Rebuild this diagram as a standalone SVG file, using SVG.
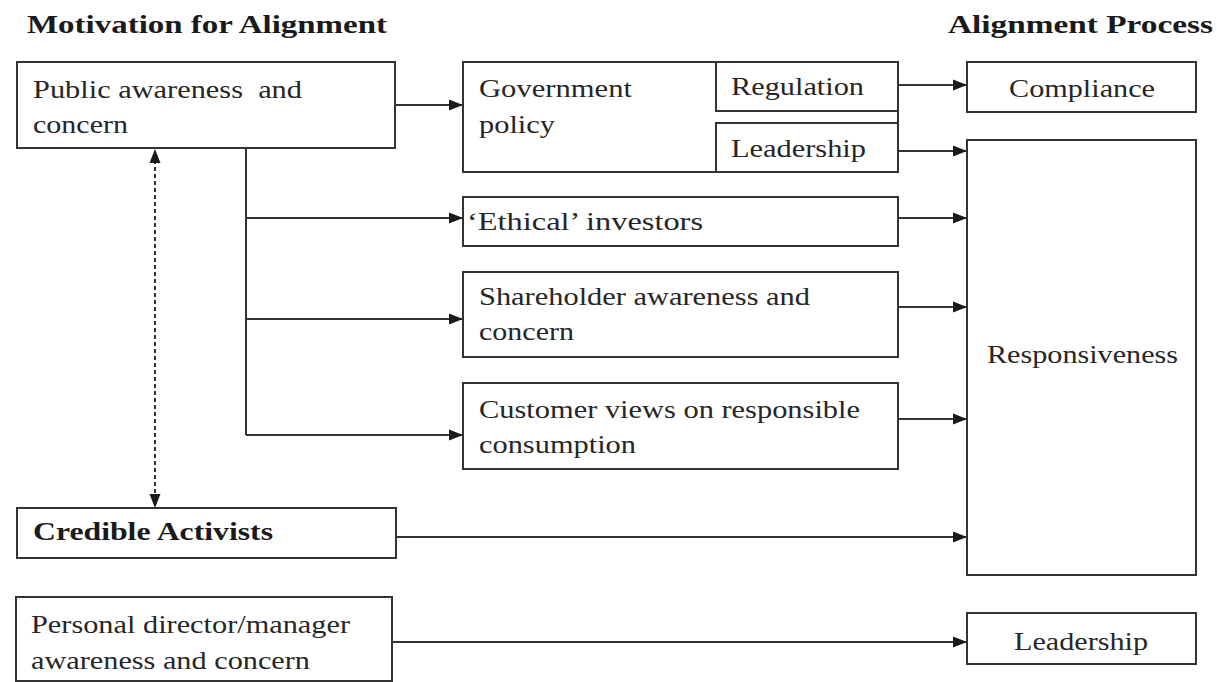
<svg xmlns="http://www.w3.org/2000/svg" width="1217" height="682" viewBox="0 0 1217 682">
<defs>
<marker id="ah" markerWidth="16" markerHeight="14" refX="14" refY="7" orient="auto" markerUnits="userSpaceOnUse">
<path d="M0,1.5 L14,7 L0,12.5 Z" fill="#1a1a1a"/>
</marker>
<style>
.box{fill:#fff;stroke:#333;stroke-width:2}
.t{font-family:"Liberation Serif","Times New Roman",serif;font-size:26px;fill:#262626}
.b{font-weight:bold;fill:#1a1a1a}
.ln{fill:none;stroke:#333;stroke-width:2}
.dash{stroke-dasharray:4 3}
</style>
</defs>
<rect width="1217" height="682" fill="#fff"/>

<g id="titles">
<text class="t b" x="27" y="33" font-size="27" textLength="360" lengthAdjust="spacingAndGlyphs">Motivation for Alignment</text>
<text class="t b" x="948" y="33" font-size="27" textLength="265" lengthAdjust="spacingAndGlyphs">Alignment Process</text>
</g>

<g id="connectors">
<line class="ln" x1="395" y1="105" x2="463" y2="105" marker-end="url(#ah)"/>
<line class="ln" x1="246" y1="148" x2="246" y2="435"/>
<line class="ln" x1="246" y1="218" x2="463" y2="218" marker-end="url(#ah)"/>
<line class="ln" x1="246" y1="319" x2="463" y2="319" marker-end="url(#ah)"/>
<line class="ln" x1="246" y1="435" x2="463" y2="435" marker-end="url(#ah)"/>
<line class="ln" x1="898" y1="85" x2="967" y2="85" marker-end="url(#ah)"/>
<line class="ln" x1="898" y1="151" x2="967" y2="151" marker-end="url(#ah)"/>
<line class="ln" x1="898" y1="218" x2="967" y2="218" marker-end="url(#ah)"/>
<line class="ln" x1="898" y1="307" x2="967" y2="307" marker-end="url(#ah)"/>
<line class="ln" x1="898" y1="419" x2="967" y2="419" marker-end="url(#ah)"/>
<line class="ln" x1="396" y1="537" x2="967" y2="537" marker-end="url(#ah)"/>
<line class="ln" x1="392" y1="642" x2="967" y2="642" marker-end="url(#ah)"/>
<line class="ln dash" x1="155" y1="160" x2="155" y2="497"/>
<path d="M155,149 L149.5,163 L160.5,163 Z" fill="#1a1a1a"/>
<path d="M155,508 L149.5,494 L160.5,494 Z" fill="#1a1a1a"/>
</g>

<g id="public">
<rect class="box" x="17" y="62" width="378" height="86"/>
<text class="t" x="33" y="98" textLength="269" lengthAdjust="spacingAndGlyphs" xml:space="preserve">Public awareness  and</text>
<text class="t" x="33" y="133" textLength="95" lengthAdjust="spacingAndGlyphs">concern</text>
</g>

<g id="government">
<rect class="box" x="463" y="62" width="435" height="110"/>
<text class="t" x="479" y="97" textLength="153" lengthAdjust="spacingAndGlyphs">Government</text>
<text class="t" x="479" y="133" textLength="76" lengthAdjust="spacingAndGlyphs">policy</text>
</g>

<g id="regulation">
<rect class="box" x="716" y="62" width="182" height="49"/>
<text class="t" x="731" y="95" textLength="133" lengthAdjust="spacingAndGlyphs">Regulation</text>
</g>

<g id="leadership-gov">
<rect class="box" x="716" y="123" width="182" height="49"/>
<text class="t" x="731" y="157" textLength="135" lengthAdjust="spacingAndGlyphs">Leadership</text>
</g>

<g id="ethical">
<rect class="box" x="463" y="197" width="435" height="49"/>
<text class="t" x="467" y="230" textLength="236" lengthAdjust="spacingAndGlyphs">‘Ethical’ investors</text>
</g>

<g id="shareholder">
<rect class="box" x="463" y="272" width="435" height="85"/>
<text class="t" x="479" y="305" textLength="331" lengthAdjust="spacingAndGlyphs">Shareholder awareness and</text>
<text class="t" x="479" y="340" textLength="95" lengthAdjust="spacingAndGlyphs">concern</text>
</g>

<g id="customer">
<rect class="box" x="463" y="383" width="435" height="86"/>
<text class="t" x="479" y="418" textLength="381" lengthAdjust="spacingAndGlyphs">Customer views on responsible</text>
<text class="t" x="479" y="453" textLength="157" lengthAdjust="spacingAndGlyphs">consumption</text>
</g>

<g id="credible">
<rect class="box" x="17" y="508" width="379" height="50"/>
<text class="t b" x="33" y="540" textLength="240" lengthAdjust="spacingAndGlyphs">Credible Activists</text>
</g>

<g id="personal">
<rect class="box" x="16" y="597" width="376" height="84"/>
<text class="t" x="31" y="633" textLength="319" lengthAdjust="spacingAndGlyphs">Personal director/manager</text>
<text class="t" x="31" y="669" textLength="279" lengthAdjust="spacingAndGlyphs">awareness and concern</text>
</g>

<g id="compliance">
<rect class="box" x="967" y="62" width="229" height="50"/>
<text class="t" x="1009" y="97" textLength="146" lengthAdjust="spacingAndGlyphs">Compliance</text>
</g>

<g id="responsiveness">
<rect class="box" x="967" y="140" width="229" height="435"/>
<text class="t" x="987" y="363" textLength="191" lengthAdjust="spacingAndGlyphs">Responsiveness</text>
</g>

<g id="leadership-out">
<rect class="box" x="967" y="613" width="229" height="51"/>
<text class="t" x="1014" y="650" textLength="134" lengthAdjust="spacingAndGlyphs">Leadership</text>
</g>
</svg>
